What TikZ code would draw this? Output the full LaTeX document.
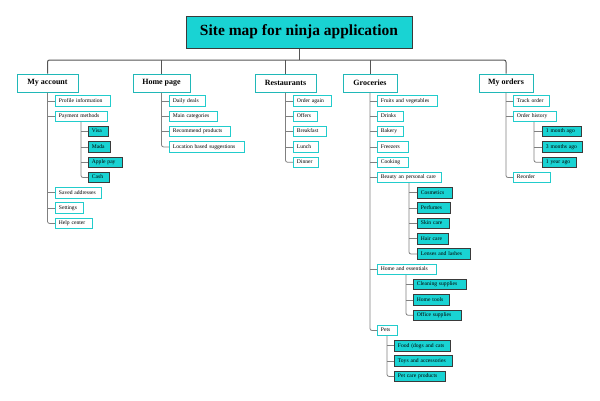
\documentclass[tikz,border=0pt]{standalone}
\usepackage{fontspec}
\setmainfont{Liberation Serif}
\usetikzlibrary{calc,shadows}
\definecolor{cy}{HTML}{19D3D3}
\definecolor{cyb}{HTML}{22CCCC}
\definecolor{tealb}{HTML}{20B8B8}
\definecolor{dk}{HTML}{3A3A3A}
\definecolor{ln}{HTML}{808080}
\definecolor{ln2}{HTML}{555555}
\newcommand\bx[6]{\pgfmathsetmacro\tw{#5-7}\node[#1,text width=\tw pt] (#2) at (#3,{101+15.3*#4}) {\mbox{#6}};}
\newcommand\br[2]{\draw[cn] (#2.west) -- (#2.west -| #1);}
\newcommand\lbr[2]{\draw[cn,rounded corners=2pt] (#1) |- (#2.west);}
\begin{document}
\begin{tikzpicture}[x=1pt,y=-1pt]
\tikzset{
 ttl/.style={fill=cy, draw=dk, line width=1pt, minimum width=226pt, minimum height=32pt, inner sep=0pt,
   font=\fontsize{15.5}{18}\selectfont\bfseries, drop shadow={shadow xshift=0.7pt,shadow yshift=-0.7pt,fill=gray,opacity=0.5}},
 lone/.style={fill=white, draw=tealb, line width=1pt, minimum height=18pt, inner sep=0pt,
   font=\fontsize{8}{10}\selectfont\bfseries, drop shadow={shadow xshift=0.7pt,shadow yshift=-0.7pt,fill=gray,opacity=0.4}},
 wb/.style={anchor=west, fill=white, draw=cyb, line width=0.8pt, minimum height=10.5pt, inner xsep=3.5pt, inner ysep=0pt,
   text height=4pt, text depth=1.3pt, align=left, font=\fontsize{5.6}{6.5}\selectfont},
 cb/.style={wb, fill=cy, draw=dk},
 cn/.style={draw=ln, line width=0.8pt},
 cn2/.style={draw=ln2, line width=1pt, rounded corners=2pt},
}
\useasboundingbox (0,0) rectangle (600,400);
\node[ttl] (title) at (299,32) {Site map for ninja application};
\node[lone, minimum width=61pt] (acc) at (47.5,83) {My account};
\node[lone, minimum width=57pt] (home) at (161.5,83) {Home page};
\node[lone, minimum width=61pt] (rest) at (285.5,83) {Restaurants};
\node[lone, minimum width=54pt] (groc) at (370,83) {Groceries};
\node[lone, minimum width=54pt] (ord) at (506,83) {My orders};
\coordinate (bus) at (299,60);
\draw[cn2] (title.south) -- (bus);
\draw[cn2] (acc.north) |- (bus) -| (ord.north);
\draw[cn2] (home.north) -- (home.north |- bus);
\draw[cn2] (rest.north) -- (rest.north |- bus);
\draw[cn2] (groc.north) -- (groc.north |- bus);
% My account
\bx{wb}{pi}{55}{0}{55}{Profile information}
\bx{wb}{pm}{55}{1}{52}{Payment methods}
\bx{cb}{visa}{88}{2}{20}{Visa}
\bx{cb}{mada}{88}{3}{22}{Mada}
\bx{cb}{apay}{88}{4}{34}{Apple pay}
\bx{cb}{cash}{88}{5}{21}{Cash}
\bx{wb}{sa}{55}{6}{46}{Saved addresses}
\bx{wb}{st}{55}{7}{28}{Settings}
\bx{wb}{hc}{55}{8}{37}{Help center}
% Home page
\bx{wb}{dd}{169}{0}{36}{Daily deals}
\bx{wb}{mc}{169}{1}{48}{Main categories}
\bx{wb}{rp}{169}{2}{61}{Recommend products}
\bx{wb}{lb}{169}{3}{75}{Location based suggestions}
% Restaurants
\bx{wb}{oa}{293}{0}{38}{Order again}
\bx{wb}{of}{293}{1}{24}{Offers}
\bx{wb}{bf}{293}{2}{33}{Breakfast}
\bx{wb}{lu}{293}{3}{25}{Lunch}
\bx{wb}{di}{293}{4}{25}{Dinner}
% Groceries
\bx{wb}{fv}{377}{0}{60}{Fruits and vegetables}
\bx{wb}{dr}{377}{1}{26}{Drinks}
\bx{wb}{bk}{377}{2}{26}{Bakery}
\bx{wb}{fz}{377}{3}{31}{Freezers}
\bx{wb}{ck}{377}{4}{31}{Cooking}
\bx{wb}{bp}{377}{5}{64}{Beauty an personal care}
\bx{cb}{cos}{417}{6}{35}{Cosmetics}
\bx{cb}{per}{417}{7}{33}{Perfumes}
\bx{cb}{skc}{417}{8}{32}{Skin care}
\bx{cb}{hac}{417}{9}{31}{Hair care}
\bx{cb}{lel}{417}{10}{53}{Lenses and lashes}
\bx{wb}{he}{377}{11}{59}{Home and essentials}
\bx{cb}{cls}{413}{12}{53}{Cleaning supplies}
\bx{cb}{ht}{413}{13}{36}{Home tools}
\bx{cb}{os}{413}{14}{48}{Office supplies}
\bx{wb}{pe}{377}{15}{20}{Pets}
\bx{cb}{fd}{394}{16}{56}{Food (dogs and cats}
\bx{cb}{ta}{394}{17}{58}{Toys and accessories}
\bx{cb}{pcp}{394}{18}{51}{Pet care products}
% My orders
\bx{wb}{to}{513}{0}{36}{Track order}
\bx{wb}{oh}{513}{1}{43}{Order history}
\bx{cb}{mo1}{542}{2}{39}{1 month ago}
\bx{cb}{mo3}{542}{3}{40}{3 months ago}
\bx{cb}{yr1}{542}{4}{34}{1 year ago}
\bx{wb}{ro}{513}{5}{37}{Reorder}
% trunk coordinates
\coordinate (pmT) at ($(pm.south west)+(26,0)$);
\coordinate (bpT) at ($(bp.south west)+(32,0)$);
\coordinate (heT) at ($(he.south west)+(29,0)$);
\coordinate (peT) at ($(pe.south west)+(10,0)$);
\coordinate (ohT) at ($(oh.south west)+(21,0)$);
% connectors
\br{acc.south}{pi}\br{acc.south}{pm}\br{acc.south}{sa}\br{acc.south}{st}\lbr{acc.south}{hc}
\br{pmT}{visa}\br{pmT}{mada}\br{pmT}{apay}\lbr{pmT}{cash}
\br{home.south}{dd}\br{home.south}{mc}\br{home.south}{rp}\lbr{home.south}{lb}
\br{rest.south}{oa}\br{rest.south}{of}\br{rest.south}{bf}\br{rest.south}{lu}\lbr{rest.south}{di}
\br{groc.south}{fv}\br{groc.south}{dr}\br{groc.south}{bk}\br{groc.south}{fz}\br{groc.south}{ck}\br{groc.south}{bp}\br{groc.south}{he}\lbr{groc.south}{pe}
\br{bpT}{cos}\br{bpT}{per}\br{bpT}{skc}\br{bpT}{hac}\lbr{bpT}{lel}
\br{heT}{cls}\br{heT}{ht}\lbr{heT}{os}
\br{peT}{fd}\br{peT}{ta}\lbr{peT}{pcp}
\br{ord.south}{to}\br{ord.south}{oh}\lbr{ord.south}{ro}
\br{ohT}{mo1}\br{ohT}{mo3}\lbr{ohT}{yr1}
\end{tikzpicture}
\end{document}
